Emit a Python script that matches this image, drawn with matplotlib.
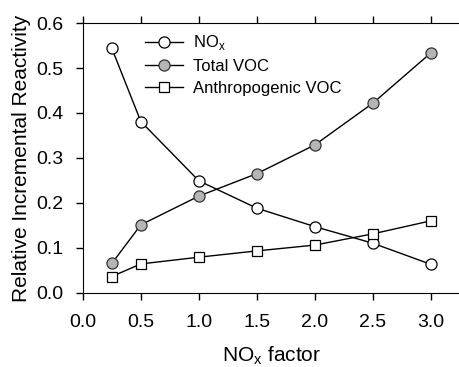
import matplotlib.pyplot as plt

plt.rcParams['font.family'] = ['Liberation Sans', 'DejaVu Sans']

nox_factor = [0.25, 0.5, 1.0, 1.5, 2.0, 2.5, 3.0]
rir_nox = [0.544, 0.381, 0.249, 0.188, 0.147, 0.110, 0.063]
rir_total_voc = [0.065, 0.151, 0.215, 0.265, 0.329, 0.422, 0.534]
rir_anthro_voc = [0.036, 0.064, 0.079, 0.093, 0.106, 0.131, 0.160]

fig = plt.figure(figsize=[4.6, 3.67], dpi=100)
ax = fig.add_axes([0.180, 0.2025, 0.82, 0.7345])

ax.plot(nox_factor, rir_nox, '-o', color='black', lw=1.0, mfc='white',
        mec='black', ms=8, mew=0.9, label='NO$_\\mathregular{x}$')
ax.plot(nox_factor, rir_total_voc, '-o', color='black', lw=1.0, mfc='#b5b5b5',
        mec='#333333', ms=8, mew=0.9, label='Total VOC')
ax.plot(nox_factor, rir_anthro_voc, '-s', color='black', lw=1.0, mfc='white',
        mec='black', ms=7, mew=0.9, label='Anthropogenic VOC')

ax.set_xlim(0, 3.25)
ax.set_ylim(0, 0.6)
ax.set_xticks([0.0, 0.5, 1.0, 1.5, 2.0, 2.5, 3.0])
ax.set_yticks([0.0, 0.1, 0.2, 0.3, 0.4, 0.5, 0.6])
ax.xaxis.set_major_formatter(plt.FormatStrFormatter('%.1f'))
ax.yaxis.set_major_formatter(plt.FormatStrFormatter('%.1f'))

ax.spines['right'].set_visible(False)
ax.tick_params(axis='both', direction='out', length=5, width=1, labelsize=14)
ax.tick_params(axis='y', pad=9)
ax.tick_params(axis='x', top=True, pad=10)

ax.set_xlabel('NO$_\\mathregular{x}$ factor', fontsize=15, labelpad=10)
ax.set_ylabel('Relative Incremental Reactivity', fontsize=15, labelpad=4)

ax.legend(loc='upper left', bbox_to_anchor=(0.164, 0.962), frameon=False, fontsize=12,
          handlelength=2.3, labelspacing=0.4, handletextpad=0.6,
          borderpad=0, borderaxespad=0)

fig.savefig('out.png', dpi=100)
